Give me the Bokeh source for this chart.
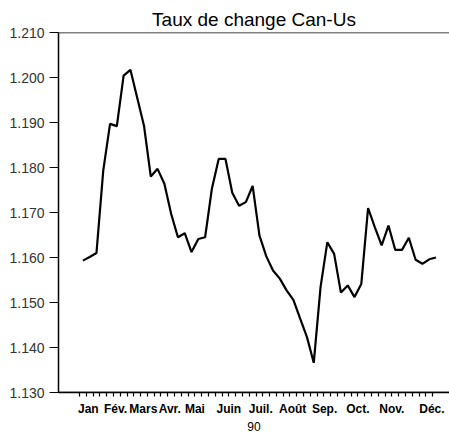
from bokeh.plotting import figure
from bokeh.models import Range1d, FixedTicker, Span, NumeralTickFormatter, Arrow
from bokeh.embed import file_html
from bokeh.resources import INLINE

# weekly Canada-US exchange rate, 1990
weeks = [i + 0.5 for i in range(53)]
rates = [1.1593, 1.1601, 1.1610, 1.1793, 1.1897, 1.1892, 1.2004, 1.2017, 1.1955, 1.1893,
         1.1780, 1.1797, 1.1764, 1.1697, 1.1645, 1.1654, 1.1612, 1.1641, 1.1645, 1.1753,
         1.1819, 1.1819, 1.1744, 1.1715, 1.1723, 1.1759, 1.1649, 1.1603, 1.1571, 1.1553,
         1.1527, 1.1506, 1.1464, 1.1423, 1.1366, 1.1534, 1.1634, 1.1608, 1.1522, 1.1538,
         1.1512, 1.1541, 1.1710, 1.1667, 1.1627, 1.1671, 1.1617, 1.1617, 1.1644, 1.1595,
         1.1586, 1.1596, 1.1600]

month_labels = ["Jan", "Fév.", "Mars", "Avr.", "Mai", "Juin", "Juil.", "Août",
                "Sep.", "Oct.", "Nov.", "Déc."]
month_pos = [1.3, 5.3, 9.4, 13.3, 17.0, 22.0, 26.7, 31.4, 36.1, 41.0, 46.0, 51.9]
week_ticks = list(range(53))
y_ticks = [1.13, 1.14, 1.15, 1.16, 1.17, 1.18, 1.19, 1.20, 1.21]
year_label = "90"

p = figure(width=449, height=436, output_backend="svg", toolbar_location=None,
           x_range=Range1d(-3.09, 54.49), y_range=Range1d(1.130, 1.210),
           min_border_left=58, min_border_right=0, min_border_top=32,
           min_border_bottom=44, title="Taux de change Can-Us")
p.title.align = "center"
p.title.text_font = "Liberation Sans"
p.title.text_font_size = "19px"
p.title.text_font_style = "normal"
p.title.text_color = "black"
p.title.offset = 0
p.title.standoff = 6
p.grid.visible = False
p.outline_line_color = None
p.background_fill_color = "white"
p.border_fill_color = "white"

# y axis
ya = p.yaxis[0]
ya.ticker = FixedTicker(ticks=y_ticks)
ya.formatter = NumeralTickFormatter(format="0.000")
ya.axis_line_width = 1.5
ya.major_tick_in = 0
ya.major_tick_out = 9
ya.major_tick_line_width = 1.2
ya.minor_tick_line_color = None
ya.major_label_text_font = "Liberation Sans"
ya.major_label_text_font_size = "14px"
ya.major_label_text_color = "#333333"
ya.major_label_standoff = 5

# x axis: weekly minor ticks, month names as labels
xa = p.xaxis[0]
xa.ticker = FixedTicker(ticks=month_pos, minor_ticks=week_ticks)
xa.major_label_overrides = {pos: lab for pos, lab in zip(month_pos, month_labels)}
xa.axis_line_width = 1.5
xa.axis_line_color = "black"
xa.major_tick_line_color = None
xa.major_tick_in = 0
xa.major_tick_out = 4
xa.minor_tick_in = 0
xa.minor_tick_out = 4
xa.minor_tick_line_width = 1.2
xa.major_label_text_font = "Liberation Sans"
xa.major_label_text_font_size = "12px"
xa.major_label_text_font_style = "bold"
xa.major_label_text_color = "black"
xa.major_label_standoff = 5
xa.axis_label = year_label
xa.axis_label_text_font = "Liberation Sans"
xa.axis_label_text_font_size = "12px"
xa.axis_label_text_font_style = "normal"
xa.axis_label_text_color = "black"
xa.axis_label_standoff = 3

p.add_layout(Span(location=1.210, dimension="width", line_color="black", line_width=1.5))
p.add_layout(Span(location=1.130, dimension="width", line_color="black", line_width=1.5))

# longer ticks at the start and end of the year
for xt in (0, 52):
    p.add_layout(Arrow(x_start=xt, y_start=1.130, x_end=xt, y_end=1.1283,
                       start=None, end=None, line_color="black", line_width=1.2))

p.line(weeks, rates, line_color="black", line_width=2.2)

open("out.html", "w").write(file_html(p, INLINE))
